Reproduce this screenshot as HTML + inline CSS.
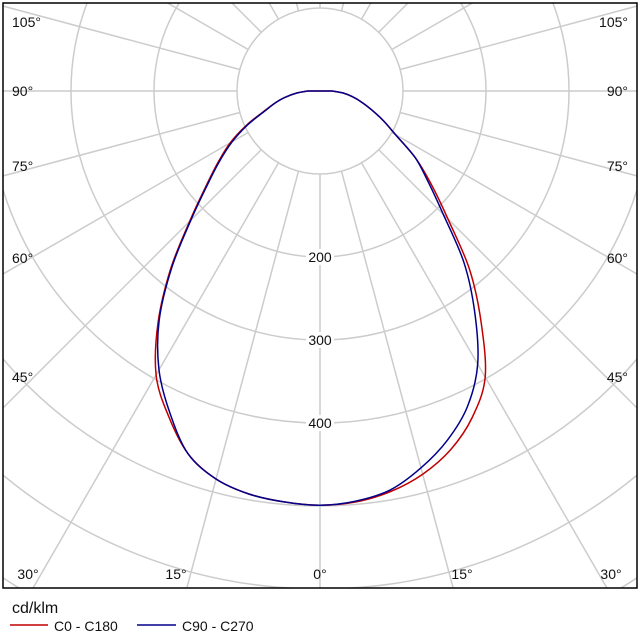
<!DOCTYPE html>
<html><head><meta charset="utf-8"><style>
body{margin:0;background:#fff;overflow:hidden}
svg{display:block;font-family:"Liberation Sans",sans-serif}
</style></head><body>
<svg id="chart" width="640" height="640" viewBox="0 0 640 640" overflow="hidden">
<defs><clipPath id="frameclip"><rect x="3" y="3" width="634" height="585"/></clipPath></defs>
<g id="grid" clip-path="url(#frameclip)"></g>
<rect x="3" y="3" width="634" height="585" fill="none" stroke="#000" stroke-width="1.5"/>
<g id="ringlabels"></g>
<g id="curves"></g>
<g id="anglelabels" font-size="14" fill="#111"></g>
<text x="12" y="613" font-size="16" fill="#111">cd/klm</text>
<line x1="10" y1="625" x2="48" y2="625" stroke="#c00000" stroke-width="1.5"/>
<text x="54" y="631" font-size="14" fill="#111">C0 - C180</text>
<line x1="137" y1="625" x2="176" y2="625" stroke="#00008b" stroke-width="1.5"/>
<text x="182" y="631" font-size="14" fill="#111">C90 - C270</text>
</svg>
<script>
const angles = [0,5,10,15,20,25,30,35,40,45,50,55,60,65,70,75,80,85,90];
const c0   = [499,497,490,478,460,434,398,338,280,218,175,140,105,84,66,52,40,28,15];
const c180 = [499,497,493,484,465,432,395,340,280,222,180,150,125,98,72,56,42,28,15];
const c90  = [499,496,488,470,448,420,380,325,270,210,170,140,105,84,66,52,40,28,15];
const c270 = [499,497,493,484,465,428,388,338,278,220,178,148,122,96,71,56,42,28,15];
const ringValues = [100,200,300,400,500,600,700];
const ringLabelValues = [200,300,400];
const spokeAngles = [0,15,30,45,60,75,90,105,120,135,150,165,180,195,210,225,240,255,270,285,300,315,330,345];
const angleLabels = ["105°","90°","75°","60°","45°"];

const NS="http://www.w3.org/2000/svg";
const cx=320, cy=91, k=0.83;
function px(r,deg,side){const t=deg*Math.PI/180;return [cx+side*r*k*Math.sin(t), cy+r*k*Math.cos(t)];}
function mk(tag,attrs,parent){const e=document.createElementNS(NS,tag);for(const a in attrs)e.setAttribute(a,attrs[a]);parent.appendChild(e);return e;}
const grid=document.getElementById('grid');
ringValues.forEach(v=>{
  const c=mk('circle',{cx:cx,cy:cy,r:v*k,fill:'none',stroke:'#cccccc','stroke-width':1.5},grid);
  
  
});
spokeAngles.forEach(a=>{
  const p1=px(100,a,1), p2=px(900,a,1);
  const l=mk('line',{x1:p1[0],y1:p1[1],x2:p2[0],y2:p2[1],stroke:'#cccccc','stroke-width':1.5},grid);
  
  
});
const rl=document.getElementById('ringlabels');
ringLabelValues.forEach(v=>{
  const y=cy+v*k;
  const r=mk('rect',{x:cx-14,y:y-8,width:28,height:16,fill:'#fff'},rl);
  
  
  const t=mk('text',{x:cx,y:y+5,'text-anchor':'middle','font-size':14,fill:'#111'},rl);
  t.textContent=v;
  
  
});
const al=document.getElementById('anglelabels');
const ys=[27,96,171,263,382];
angleLabels.forEach((s,i)=>{
  const t1=mk('text',{x:12,y:ys[i]},al);t1.textContent=s;
  
  
  const t2=mk('text',{x:628,y:ys[i],'text-anchor':'end'},al);t2.textContent=s;
  
  
});
[["30°",28],["15°",176],["0°",320],["15°",462],["30°",611]].forEach((b,i)=>{
  const t=mk('text',{x:b[1],y:579,'text-anchor':'middle'},al);t.textContent=b[0];
  
  
});
function smooth(pts){
  let d='M'+pts[0][0].toFixed(1)+','+pts[0][1].toFixed(1);
  for(let i=0;i<pts.length-1;i++){
    const p0=pts[Math.max(0,i-1)],p1=pts[i],p2=pts[i+1],p3=pts[Math.min(pts.length-1,i+2)];
    const c1=[p1[0]+(p2[0]-p0[0])/6,p1[1]+(p2[1]-p0[1])/6];
    const c2=[p2[0]-(p3[0]-p1[0])/6,p2[1]-(p3[1]-p1[1])/6];
    d+='C'+c1.map(v=>v.toFixed(1)).join(',')+' '+c2.map(v=>v.toFixed(1)).join(',')+' '+p2[0].toFixed(1)+','+p2[1].toFixed(1);
  }
  return d+'Z';
}
function curve(right,left,color,name){
  const pts=[];
  for(let i=angles.length-1;i>=0;i--)pts.push(px(left[i],angles[i],-1));
  for(let i=1;i<angles.length;i++)pts.push(px(right[i],angles[i],1));
  const p=mk('path',{d:smooth(pts),fill:'none',stroke:color,'stroke-width':1.5},document.getElementById('curves'));
  
  
}
curve(c0,c180,'#c00000','curve-c0-c180');
curve(c90,c270,'#00008b','curve-c90-c270');
</script>
</body></html>
